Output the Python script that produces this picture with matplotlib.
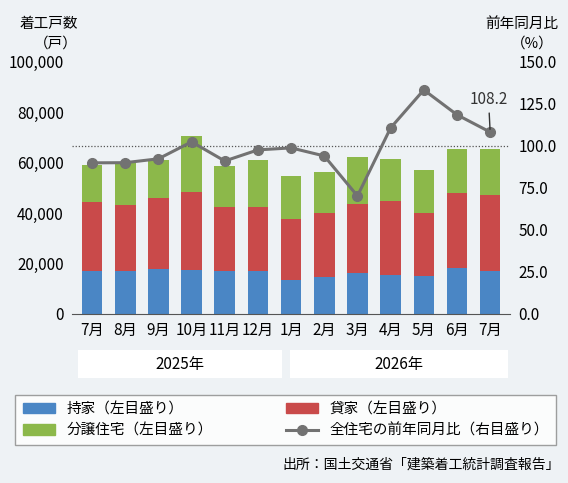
import matplotlib
matplotlib.use("Agg")
import matplotlib.pyplot as plt
from matplotlib.patches import Rectangle
from matplotlib.lines import Line2D
import numpy as np

plt.rcParams['font.family'] = ['Noto Sans CJK JP', 'DejaVu Sans']

months = ["7月","8月","9月","10月","11月","12月","1月","2月","3月","4月","5月","6月","7月"]
owned = [17100,17000,17900,17500,17000,17000,13500,14700,16300,15500,15000,18300,17000]
rental = [27300,26300,28100,30900,25500,25500,24200,25300,27300,29300,25000,29700,30200]
sale = [14700,16700,15000,22200,16200,18500,17100,16300,18700,16700,17000,17500,18300]
yoy = [89.9,90.0,92.3,102.4,91.0,97.6,98.8,94.0,70.2,110.7,133.3,118.5,108.2]
years = ["2025年","2026年"]

c_blue, c_red, c_green, c_line = "#4a86c5", "#c94a4a", "#8cb84a", "#727272"

fig = plt.figure(figsize=(5.68,4.83), dpi=100, facecolor="#eef2f5")
ax = fig.add_axes([0.127,0.35,0.771,0.522])
ax.set_facecolor("none")
x = np.arange(len(months))
w = 0.62
ax.bar(x, owned, w, color=c_blue, zorder=2)
ax.bar(x, rental, w, bottom=owned, color=c_red, zorder=2)
ax.bar(x, sale, w, bottom=np.array(owned)+np.array(rental), color=c_green, zorder=2)
ax.set_ylim(0,100000)
ax.set_xlim(-0.6,len(months)-0.4)
ax.set_yticks(range(0,100001,20000))
ax.set_yticklabels([f"{v:,}" for v in range(0,100001,20000)], fontsize=11)
ax.set_xticks(x)
ax.set_xticklabels(months, fontsize=11)
for s in ax.spines.values():
    s.set_visible(False)
ax.spines['bottom'].set_visible(True)
ax.spines['bottom'].set_color("#555555")
ax.tick_params(length=0, pad=6)

ax2 = ax.twinx()
ax2.set_ylim(0,150)
ax2.set_yticks(np.arange(0,151,25))
ax2.set_yticklabels([f"{v:.1f}" for v in np.arange(0,151,25)], fontsize=11)
for s in ax2.spines.values():
    s.set_visible(False)
ax2.tick_params(length=0, pad=6)
ax2.axhline(100, color="#555555", ls=(0,(1,1.5)), lw=0.9, zorder=1)
ax2.plot(x, yoy, color=c_line, lw=2.2, marker="o", ms=7, zorder=3)
ax2.annotate(f"{yoy[-1]}", xy=(x[-1], yoy[-1]), xytext=(x[-1]-0.05, yoy[-1]+17),
             ha="center", fontsize=11, color="#333333",
             arrowprops=dict(arrowstyle="-", color="#333333", lw=1))

fig.text(0.035,0.965,"着工戸数", fontsize=10.5, va="top")
fig.text(0.06,0.925,"（戸）", fontsize=10.5, va="top")
fig.text(0.855,0.965,"前年同月比", fontsize=10.5, va="top")
fig.text(0.9,0.925,"（%）", fontsize=10.5, va="top")

H = 483; W = 568
for (x0,x1),lab in zip([(78,282),(290,508)], years):
    fig.patches.append(Rectangle((x0/W,(H-378)/H),(x1-x0)/W,28/H, transform=fig.transFigure,
                                 facecolor="white", edgecolor="none"))
    fig.text((x0+x1)/2/W,(H-364)/H, lab, ha="center", va="center", fontsize=11)

h_blue = Rectangle((0,0),1,1,color=c_blue)
h_red = Rectangle((0,0),1,1,color=c_red)
h_green = Rectangle((0,0),1,1,color=c_green)
h_line = Line2D([],[],color=c_line,lw=2.2,marker="o",ms=7)
handles = [h_blue, h_green, h_red, h_line]
labels = ["持家（左目盛り）","分譲住宅（左目盛り）","貸家（左目盛り）","全住宅の前年同月比（右目盛り）"]
leg = fig.legend(handles, labels, ncol=2, loc="center", bbox_to_anchor=(0.503,(H-420)/H),
                 fontsize=10.5, frameon=True, fancybox=False, edgecolor="#888888",
                 columnspacing=5.0, handlelength=2.2, borderpad=0.5)
leg.get_frame().set_facecolor("white")
fig.text(0.985,0.03,"出所：国土交通省「建築着工統計調査報告」", ha="right", fontsize=10)
fig.savefig("out.png", dpi=100, facecolor=fig.get_facecolor())
